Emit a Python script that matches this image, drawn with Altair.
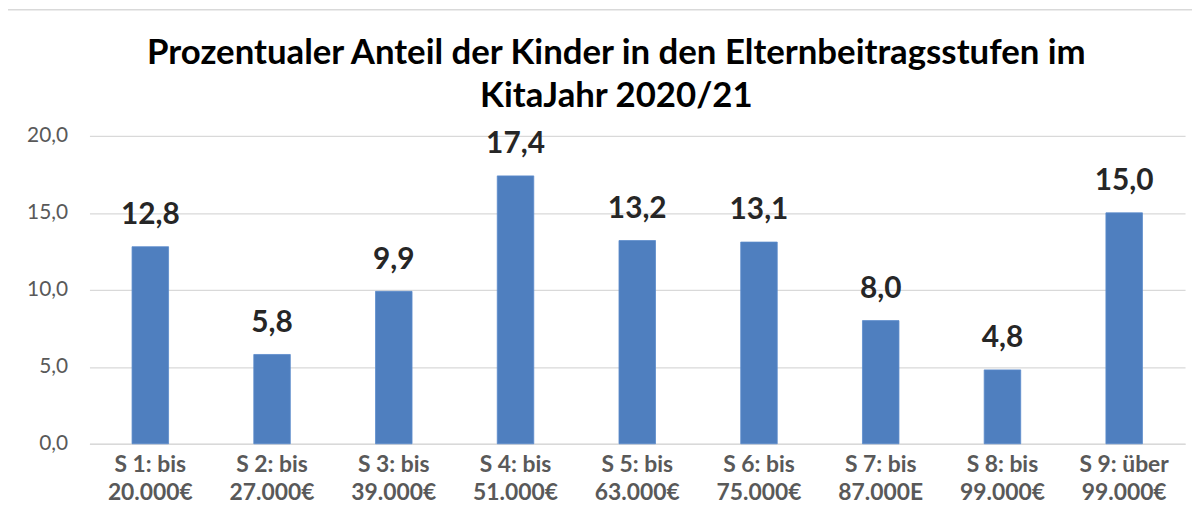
import altair as alt
import pandas as pd

stufen = ["S 1: bis", "S 2: bis", "S 3: bis", "S 4: bis", "S 5: bis",
          "S 6: bis", "S 7: bis", "S 8: bis", "S 9: über"]
grenzen = ["20.000€", "27.000€", "39.000€", "51.000€", "63.000€",
           "75.000€", "87.000E", "99.000€", "99.000€"]
anteile = [12.8, 5.8, 9.9, 17.4, 13.2, 13.1, 8.0, 4.8, 15.0]
y_ticks = [0, 5, 10, 15, 20]

df = pd.DataFrame({
    "kategorie": [f"{s}|{g}" for s, g in zip(stufen, grenzen)],
    "anteil": anteile,
})
order = list(df["kategorie"])

FONT = "Lato"
BAR = "#4f7fbf"
GRID = "#d9d9d9"

base = alt.Chart(df).encode(
    x=alt.X("kategorie:N", sort=order,
            scale=alt.Scale(paddingInner=0.7, paddingOuter=0.35),
            axis=alt.Axis(title=None, labelAngle=0, ticks=False,
                          domainColor=GRID, domainWidth=1.5,
                          labelExpr="split(datum.label, '|')",
                          labelFont=FONT, labelFontSize=23, labelFontWeight="bold",
                          labelColor="#595959", labelPadding=10, labelLineHeight=28,
                          labelBaseline="top")),
    y=alt.Y("anteil:Q", scale=alt.Scale(domain=[0, 20], nice=False),
            axis=alt.Axis(title=None, values=y_ticks, ticks=False, domain=False,
                          gridColor=GRID, gridWidth=1.2,
                          labelExpr="replace(format(datum.value, '.1f'), '.', ',')",
                          labelFont=FONT, labelFontSize=21, labelColor="#595959",
                          labelPadding=22)),
)

bars = base.mark_bar(color=BAR, stroke="#5b8bcb", strokeWidth=0.8)

labels = base.transform_calculate(
    txt="replace(format(datum.anteil, '.1f'), '.', ',')"
).mark_text(font=FONT, fontSize=30, fontWeight="bold", color="#262626",
            baseline="alphabetic", dy=-23).encode(text="txt:N")

frame_data = alt.Data(values=[{"a": 1}])
left_border = alt.Chart(frame_data).mark_rule(color=GRID, strokeWidth=1.5).encode(
    x=alt.value(-86), y=alt.value(-127), y2=alt.value(400))
top_border = alt.Chart(frame_data).mark_rule(color=GRID, strokeWidth=1.5).encode(
    x=alt.value(-86), x2=alt.value(1120), y=alt.value(-127))

chart = alt.layer(bars, labels, left_border, top_border).properties(
    width=1103,
    height=310,
    title=alt.TitleParams(
        text=["Prozentualer Anteil der Kinder in den Elternbeitragsstufen im",
              "KitaJahr 2020/21"],
        font=FONT, fontSize=35, fontWeight="bold", color="#000000",
        anchor="middle", lineHeight=44, dx=-21, offset=-106),
    autosize=alt.AutoSizeParams(type="none"),
    padding={"left": 82, "top": 127, "right": 7, "bottom": 73},
).configure_view(stroke=None)

chart.save("out.html", embed_options={"renderer": "svg", "actions": False})
